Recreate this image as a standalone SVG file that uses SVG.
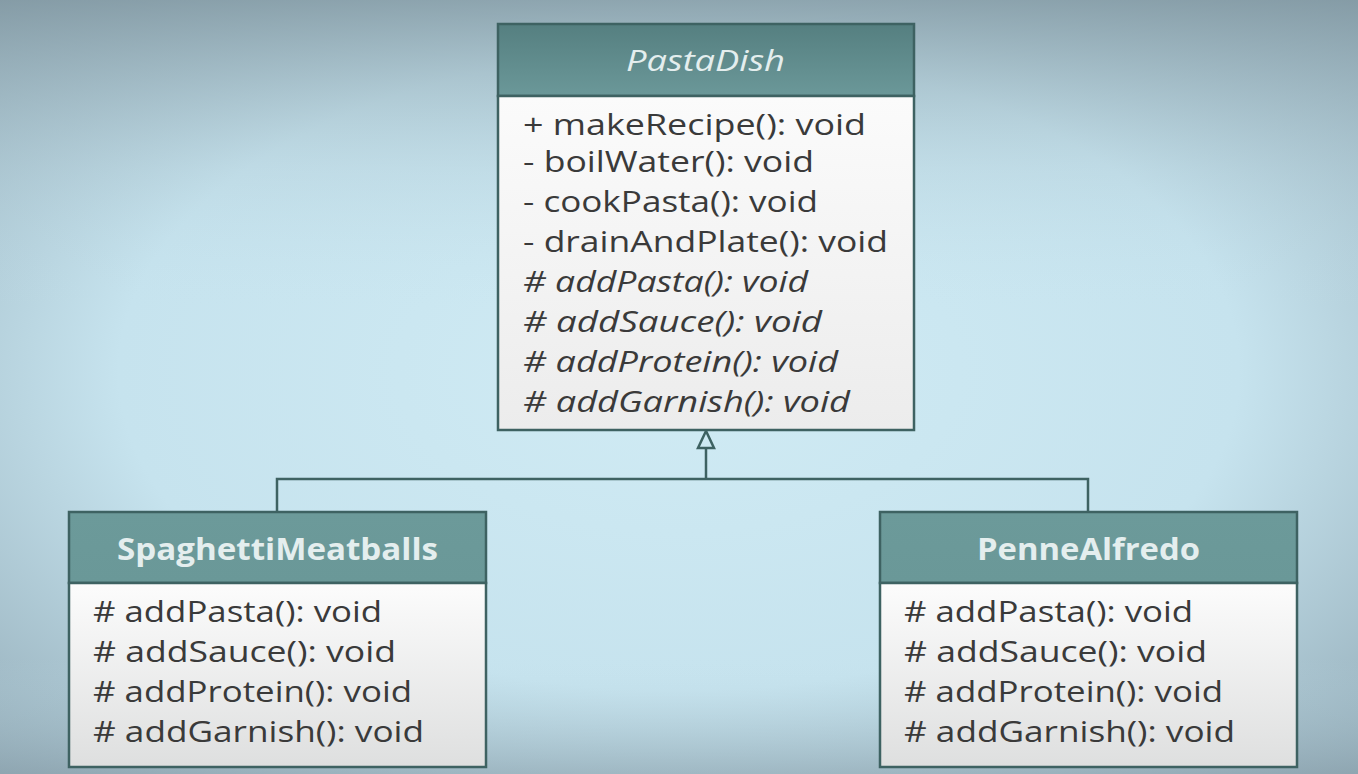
<svg xmlns="http://www.w3.org/2000/svg" width="1358" height="774" viewBox="0 0 1358 774">
<defs>
<radialGradient id="bg" cx="0.5" cy="0.48" r="0.75">
<stop offset="0" stop-color="#d0ebf4"/>
<stop offset="0.55" stop-color="#c6e3ee"/>
<stop offset="1" stop-color="#8ea6b2"/>
</radialGradient>
<linearGradient id="topShade" x1="0" y1="0" x2="0" y2="1">
<stop offset="0" stop-color="#7f959f" stop-opacity="0.75"/>
<stop offset="0.22" stop-color="#a9c2cc" stop-opacity="0.25"/>
<stop offset="0.4" stop-color="#c6e3ee" stop-opacity="0"/>
<stop offset="0.85" stop-color="#c6e3ee" stop-opacity="0"/>
<stop offset="1" stop-color="#8aa0ab" stop-opacity="0.5"/>
</linearGradient>
<linearGradient id="hdr" x1="0" y1="0" x2="0" y2="1">
<stop offset="0" stop-color="#557f80"/>
<stop offset="1" stop-color="#6b9899"/>
</linearGradient>
<linearGradient id="hdr2" x1="0" y1="0" x2="0" y2="1">
<stop offset="0" stop-color="#6c9a9a"/>
<stop offset="1" stop-color="#6a9898"/>
</linearGradient>
<linearGradient id="body" x1="0" y1="0" x2="0" y2="1">
<stop offset="0" stop-color="#fbfbfb"/>
<stop offset="1" stop-color="#ececec"/>
</linearGradient>
<linearGradient id="body2" x1="0" y1="0" x2="0" y2="1">
<stop offset="0" stop-color="#fcfcfc"/>
<stop offset="1" stop-color="#dedfdf"/>
</linearGradient>
</defs>
<style>
.box{stroke:#3e6262;stroke-width:2.5}
.line{stroke:#3e6262;stroke-width:2.5;fill:none}
.t{font-family:"Open Sans",Lato,sans-serif;font-size:30px;fill:#3a3a3a}
.i{font-style:italic}
.h{font-family:"Open Sans",Lato,sans-serif;font-size:30px;fill:#e4eeee}
.b{font-weight:bold}
</style>
<rect x="0" y="0" width="1358" height="774" fill="url(#bg)"/>
<rect x="0" y="0" width="1358" height="774" fill="url(#topShade)"/>

<g id="connectors">
<polygon points="706,431 698,448 714,448" fill="#f4f8f8" class="line"/>
<line class="line" x1="706" y1="448" x2="706" y2="479"/>
<polyline class="line" points="277,512 277,479 1088,479 1088,512"/>
</g>

<g id="PastaDish">
<rect class="box" x="498" y="24" width="416" height="72" fill="url(#hdr)"/>
<rect class="box" x="498" y="96" width="416" height="334" fill="url(#body)"/>
<text class="h i" x="626" y="71" textLength="159" lengthAdjust="spacingAndGlyphs">PastaDish</text>
<text class="t" x="523" y="135" textLength="343" lengthAdjust="spacingAndGlyphs">+ makeRecipe(): void</text>
<text class="t" x="523" y="172" textLength="291" lengthAdjust="spacingAndGlyphs">- boilWater(): void</text>
<text class="t" x="523" y="212" textLength="295" lengthAdjust="spacingAndGlyphs">- cookPasta(): void</text>
<text class="t" x="523" y="252" textLength="365" lengthAdjust="spacingAndGlyphs">- drainAndPlate(): void</text>
<text class="t i" x="523" y="292" textLength="285" lengthAdjust="spacingAndGlyphs"># addPasta(): void</text>
<text class="t i" x="523" y="332" textLength="299" lengthAdjust="spacingAndGlyphs"># addSauce(): void</text>
<text class="t i" x="523" y="372" textLength="315" lengthAdjust="spacingAndGlyphs"># addProtein(): void</text>
<text class="t i" x="523" y="412" textLength="327" lengthAdjust="spacingAndGlyphs"># addGarnish(): void</text>
</g>

<g id="SpaghettiMeatballs">
<rect class="box" x="69" y="512" width="417" height="71" fill="url(#hdr2)"/>
<rect class="box" x="69" y="583" width="417" height="184" fill="url(#body2)"/>
<text class="h b" x="117" y="560" textLength="321" lengthAdjust="spacingAndGlyphs">SpaghettiMeatballs</text>
<text class="t" x="93" y="622" textLength="289" lengthAdjust="spacingAndGlyphs"># addPasta(): void</text>
<text class="t" x="93" y="662" textLength="303" lengthAdjust="spacingAndGlyphs"># addSauce(): void</text>
<text class="t" x="93" y="702" textLength="319" lengthAdjust="spacingAndGlyphs"># addProtein(): void</text>
<text class="t" x="93" y="742" textLength="331" lengthAdjust="spacingAndGlyphs"># addGarnish(): void</text>
</g>

<g id="PenneAlfredo">
<rect class="box" x="880" y="512" width="417" height="71" fill="url(#hdr2)"/>
<rect class="box" x="880" y="583" width="417" height="184" fill="url(#body2)"/>
<text class="h b" x="977" y="560" textLength="223" lengthAdjust="spacingAndGlyphs">PenneAlfredo</text>
<text class="t" x="904" y="622" textLength="289" lengthAdjust="spacingAndGlyphs"># addPasta(): void</text>
<text class="t" x="904" y="662" textLength="303" lengthAdjust="spacingAndGlyphs"># addSauce(): void</text>
<text class="t" x="904" y="702" textLength="319" lengthAdjust="spacingAndGlyphs"># addProtein(): void</text>
<text class="t" x="904" y="742" textLength="331" lengthAdjust="spacingAndGlyphs"># addGarnish(): void</text>
</g>
</svg>
